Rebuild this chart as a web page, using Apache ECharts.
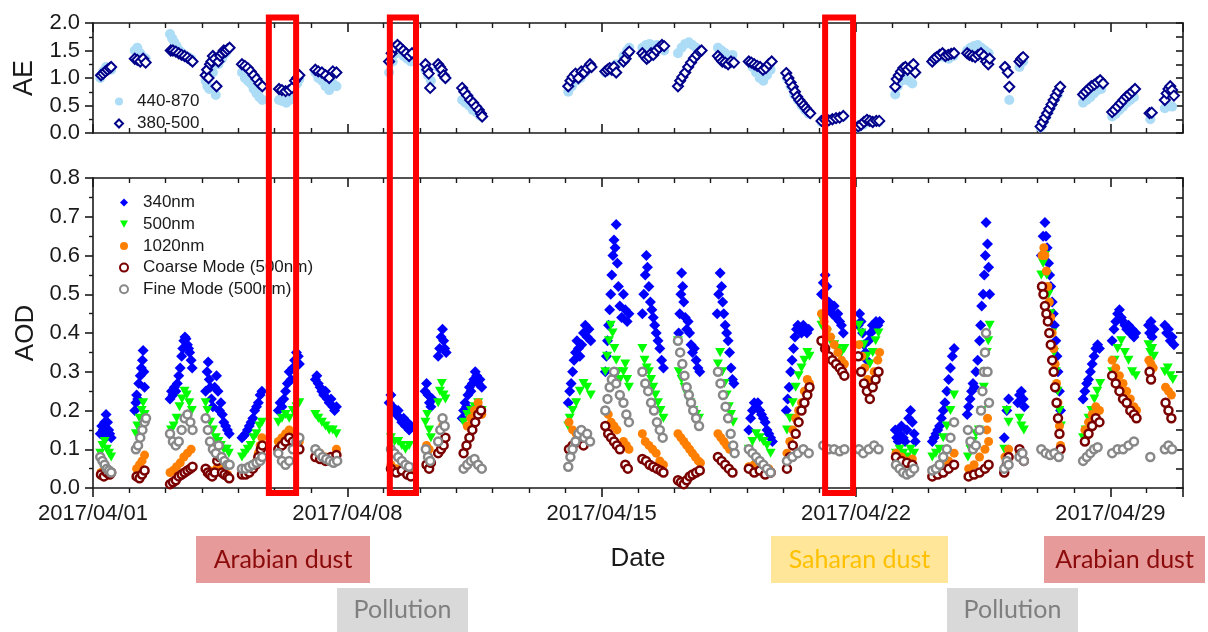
<!DOCTYPE html>
<html><head><meta charset="utf-8">
<script src="https://cdn.jsdelivr.net/npm/echarts@6/dist/echarts.min.js"></script>
<style>html,body{margin:0;padding:0;background:#fff}#c{width:1208px;height:632px}</style>
</head><body><div id="c"></div>
<script>
// x values are days since 2017/04/01 00:00
const tickLabels = ['2017/04/01','2017/04/08','2017/04/15','2017/04/22','2017/04/29'];
const aeNames = ['440-870', '380-500'];
const aodNames = ['340nm', '500nm', '1020nm', 'Coarse Mode (500nm)', 'Fine Mode (500nm)'];

const ae440870 = [
[0.2,1.0],[0.28,1.12],[0.36,1.2],[0.44,1.18],[0.5,1.15],
[1.15,1.5],[1.22,1.55],[1.3,1.45],[1.38,1.38],[1.45,1.35],
[2.12,1.8],[2.18,1.72],[2.24,1.65],[2.3,1.58],[2.38,1.5],[2.46,1.45],[2.54,1.4],[2.62,1.38],[2.7,1.35],
[3.1,0.95],[3.15,0.85],[3.2,0.8],[3.3,1.1],[3.38,0.69],[3.45,1.25],[3.55,1.35],[3.65,1.45],
[4.1,1.1],[4.18,1.0],[4.26,0.95],[4.34,0.9],[4.42,0.8],[4.5,0.72],[4.58,0.65],[4.66,0.6],
[5.12,0.6],[5.22,0.58],[5.32,0.55],[5.42,0.6],[5.52,0.75],[5.62,0.9],[5.68,0.98],
[6.12,1.1],[6.2,1.0],[6.3,0.95],[6.4,0.85],[6.5,0.78],[6.6,0.9],[6.7,0.85],
[8.15,1.1],[8.25,1.3],[8.35,1.45],[8.45,1.5],[8.55,1.4],[8.65,1.35],[8.75,1.3],
[9.15,1.15],[9.22,1.05],[9.3,0.95],[9.5,1.2],[9.6,1.1],[9.7,1.0],
[10.16,0.6],[10.25,0.55],[10.35,0.5],[10.45,0.42],[10.55,0.38],[10.65,0.32],[10.7,0.3],
[13.08,0.75],[13.18,0.85],[13.3,0.95],[13.42,1.0],[13.55,1.1],[13.68,1.2],
[14.1,1.1],[14.2,1.15],[14.3,1.2],[14.4,1.25],[14.6,1.4],[14.7,1.5],[14.76,1.55],
[15.12,1.55],[15.22,1.6],[15.32,1.62],[15.42,1.58],[15.52,1.6],[15.62,1.55],[15.72,1.5],
[16.1,1.45],[16.2,1.55],[16.3,1.62],[16.4,1.65],[16.5,1.6],[16.6,1.55],[16.7,1.5],
[17.2,1.55],[17.3,1.5],[17.4,1.45],[17.5,1.4],[17.6,1.42],
[18.05,1.3],[18.15,1.2],[18.25,1.1],[18.35,1.0],[18.45,0.95],[18.55,1.05],[18.65,1.15],
[19.1,1.0],[19.2,0.85],[19.3,0.7],[19.4,0.6],[19.5,0.5],[19.6,0.42],[19.7,0.35],
[20.05,0.2],[20.2,0.22],[20.35,0.25],[20.5,0.27],[20.65,0.3],
[21.06,0.1],[21.2,0.15],[21.35,0.2],[21.5,0.22],[21.62,0.2],
[22.08,0.7],[22.15,0.85],[22.25,0.95],[22.35,1.0],[22.45,0.95],[22.55,0.9],
[23.1,1.3],[23.2,1.35],[23.3,1.4],[23.42,1.38],[23.55,1.35],[23.68,1.4],
[24.06,1.5],[24.15,1.55],[24.25,1.58],[24.35,1.6],[24.45,1.55],[24.55,1.5],[24.65,1.45],
[25.1,1.2],[25.22,0.6],[25.5,1.2],[25.6,1.3],
[26.08,0.1],[26.16,0.2],[26.24,0.3],[26.32,0.42],[26.4,0.52],[26.48,0.62],[26.56,0.7],
[27.25,0.55],[27.35,0.6],[27.45,0.65],[27.55,0.72],[27.65,0.78],[27.75,0.8],
[28.05,0.3],[28.15,0.35],[28.25,0.42],[28.35,0.48],[28.45,0.55],[28.55,0.6],[28.65,0.65],
[29.1,0.25],
[29.5,0.45],[29.6,0.5],[29.7,0.48]
];

const ae380500 = [
[0.22,1.05],[0.28,1.08],[0.34,1.12],[0.4,1.15],[0.46,1.18],[0.5,1.2],
[1.15,1.35],[1.22,1.33],[1.3,1.3],[1.38,1.35],[1.45,1.28],
[2.14,1.5],[2.2,1.5],[2.28,1.48],[2.36,1.45],[2.44,1.42],[2.52,1.4],[2.6,1.37],[2.68,1.33],[2.74,1.3],
[3.1,1.05],[3.14,1.15],[3.18,1.0],[3.22,1.25],[3.26,1.3],[3.3,1.4],[3.35,1.35],[3.4,0.85],[3.45,1.3],[3.5,1.4],[3.55,1.45],[3.6,1.5],[3.65,1.48],[3.7,1.52],[3.76,1.55],
[4.1,1.25],[4.18,1.22],[4.26,1.18],[4.34,1.12],[4.42,1.05],[4.5,0.98],[4.58,0.9],[4.66,0.85],
[5.12,0.8],[5.2,0.78],[5.3,0.76],[5.4,0.78],[5.48,0.82],[5.56,0.95],[5.62,1.0],[5.68,1.05],
[6.12,1.15],[6.2,1.12],[6.3,1.1],[6.4,1.05],[6.5,1.0],[6.6,1.12],[6.7,1.1],
[8.15,1.3],[8.22,1.45],[8.3,1.55],[8.38,1.6],[8.46,1.55],[8.54,1.5],[8.62,1.45],[8.7,1.4],[8.78,1.45],
[9.15,1.25],[9.2,1.15],[9.24,1.08],[9.28,0.82],[9.5,1.25],[9.55,1.2],[9.6,1.15],[9.65,1.05],[9.7,1.0],
[10.16,0.82],[10.22,0.75],[10.3,0.68],[10.38,0.6],[10.46,0.55],[10.54,0.48],[10.62,0.42],[10.68,0.35],[10.71,0.3],
[13.08,0.85],[13.14,0.95],[13.2,1.02],[13.28,1.08],[13.36,1.0],[13.44,1.12],[13.52,1.1],[13.6,1.18],[13.68,1.25],[13.72,1.2],
[14.1,1.12],[14.16,1.15],[14.22,1.18],[14.28,1.15],[14.34,1.2],[14.4,1.1],[14.6,1.3],[14.66,1.35],[14.72,1.45],[14.76,1.48],
[15.12,1.45],[15.18,1.4],[15.24,1.35],[15.3,1.38],[15.36,1.45],[15.42,1.42],[15.5,1.5],[15.58,1.55],[15.66,1.6],[15.72,1.58],
[16.1,0.85],[16.16,0.95],[16.22,1.02],[16.3,1.1],[16.38,1.2],[16.46,1.28],[16.54,1.36],[16.62,1.42],[16.7,1.48],[16.75,1.5],
[17.2,1.4],[17.26,1.35],[17.32,1.3],[17.4,1.28],[17.48,1.25],[17.56,1.3],[17.64,1.28],
[18.05,1.3],[18.12,1.28],[18.2,1.25],[18.28,1.22],[18.36,1.2],[18.44,1.15],[18.52,1.18],[18.6,1.25],[18.68,1.3],
[19.08,1.09],[19.14,1.0],[19.2,0.92],[19.26,0.84],[19.32,0.75],[19.38,0.66],[19.44,0.6],[19.5,0.55],[19.56,0.5],[19.62,0.45],[19.68,0.4],[19.74,0.36],
[20.05,0.22],[20.15,0.24],[20.25,0.23],[20.35,0.25],[20.45,0.27],[20.55,0.28],[20.65,0.31],
[21.06,0.12],[21.14,0.15],[21.22,0.2],[21.3,0.24],[21.38,0.22],[21.46,0.2],[21.56,0.22],[21.64,0.22],
[22.08,0.84],[22.12,0.98],[22.18,1.05],[22.24,1.12],[22.3,1.18],[22.36,1.2],[22.42,1.15],[22.5,1.2],[22.58,1.25],[22.63,1.1],
[23.1,1.3],[23.16,1.35],[23.22,1.38],[23.3,1.42],[23.38,1.45],[23.46,1.4],[23.54,1.42],[23.62,1.44],[23.7,1.45],
[24.06,1.45],[24.12,1.42],[24.2,1.4],[24.28,1.38],[24.36,1.42],[24.44,1.45],[24.52,1.4],[24.58,1.3],[24.64,1.25],[24.68,1.35],
[25.1,1.2],[25.18,1.1],[25.22,0.84],[25.5,1.3],[25.55,1.35],[25.6,1.38],
[26.08,0.12],[26.14,0.2],[26.2,0.28],[26.26,0.36],[26.32,0.44],[26.38,0.52],[26.44,0.6],[26.5,0.68],[26.56,0.76],[26.62,0.84],
[27.25,0.7],[27.32,0.75],[27.4,0.8],[27.48,0.85],[27.56,0.88],[27.64,0.92],[27.72,0.96],[27.8,0.9],
[28.05,0.38],[28.12,0.42],[28.2,0.48],[28.28,0.54],[28.36,0.6],[28.44,0.66],[28.52,0.7],[28.6,0.75],[28.68,0.8],
[29.08,0.36],[29.14,0.37],
[29.5,0.6],[29.55,0.72],[29.6,0.8],[29.65,0.85],[29.7,0.78],[29.75,0.68]
];

const aod340 = [
[0.2,0.14],[0.24,0.16],[0.28,0.15],[0.32,0.17],[0.36,0.19],[0.4,0.17],[0.43,0.15],[0.46,0.14],[0.5,0.13],[0.34,0.13],
[1.15,0.2],[1.18,0.22],[1.2,0.24],[1.23,0.23],[1.26,0.27],[1.3,0.29],[1.33,0.31],[1.36,0.33],[1.38,0.355],[1.4,0.3],[1.42,0.26],
[2.12,0.23],[2.16,0.25],[2.2,0.24],[2.24,0.26],[2.28,0.25],[2.32,0.27],[2.36,0.29],[2.4,0.31],[2.44,0.34],[2.47,0.36],[2.5,0.38],[2.53,0.39],[2.56,0.385],[2.6,0.37],[2.63,0.36],[2.66,0.35],[2.7,0.33],[2.73,0.31],
[3.1,0.25],[3.14,0.3],[3.17,0.325],[3.2,0.28],[3.23,0.26],[3.26,0.23],[3.3,0.21],[3.35,0.26],[3.4,0.29],[3.44,0.25],[3.48,0.2],[3.52,0.22],[3.56,0.19],[3.6,0.17],[3.65,0.16],[3.7,0.15],[3.75,0.14],
[4.1,0.13],[4.15,0.135],[4.2,0.14],[4.25,0.15],[4.3,0.16],[4.35,0.17],[4.4,0.18],[4.45,0.2],[4.5,0.21],[4.55,0.22],[4.6,0.24],[4.65,0.25],
[5.1,0.2],[5.15,0.22],[5.2,0.21],[5.25,0.23],[5.3,0.25],[5.35,0.27],[5.4,0.3],[5.45,0.28],[5.5,0.31],[5.55,0.33],[5.6,0.35],[5.65,0.34],[5.68,0.32],
[6.12,0.28],[6.16,0.29],[6.2,0.27],[6.25,0.26],[6.3,0.25],[6.35,0.24],[6.4,0.25],[6.45,0.23],[6.5,0.22],[6.55,0.23],[6.6,0.21],[6.65,0.2],[6.7,0.21],
[8.15,0.22],[8.2,0.24],[8.25,0.21],[8.3,0.2],[8.35,0.19],[8.4,0.2],[8.45,0.18],[8.5,0.17],[8.55,0.18],[8.6,0.16],[8.65,0.17],[8.7,0.15],[8.75,0.16],
[9.14,0.25],[9.18,0.27],[9.22,0.24],[9.26,0.22],[9.3,0.21],[9.34,0.23],[9.5,0.34],[9.54,0.36],[9.58,0.39],[9.62,0.41],[9.65,0.38],[9.68,0.36],[9.72,0.35],
[10.16,0.18],[10.2,0.2],[10.24,0.22],[10.28,0.21],[10.32,0.24],[10.36,0.26],[10.4,0.25],[10.44,0.27],[10.48,0.28],[10.52,0.3],[10.56,0.29],[10.6,0.27],[10.65,0.28],[10.7,0.26],
[13.08,0.22],[13.12,0.25],[13.16,0.27],[13.2,0.3],[13.24,0.33],[13.28,0.35],[13.32,0.38],[13.36,0.36],[13.4,0.34],[13.45,0.37],[13.5,0.4],[13.55,0.42],[13.6,0.39],[13.65,0.41],[13.7,0.38],
[14.1,0.3],[14.13,0.34],[14.16,0.38],[14.19,0.42],[14.22,0.46],[14.25,0.5],[14.28,0.55],[14.31,0.6],[14.34,0.64],[14.37,0.62],[14.4,0.68],[14.43,0.58],[14.46,0.52],[14.5,0.47],[14.55,0.44],[14.6,0.5],[14.65,0.46],[14.7,0.43],[14.75,0.45],
[15.12,0.45],[15.16,0.5],[15.2,0.55],[15.23,0.6],[15.26,0.57],[15.3,0.52],[15.34,0.48],[15.38,0.46],[15.42,0.44],[15.46,0.42],[15.5,0.4],[15.55,0.38],[15.6,0.36],[15.65,0.33],[15.7,0.31],
[16.12,0.4],[16.15,0.45],[16.18,0.5],[16.2,0.555],[16.23,0.52],[16.26,0.48],[16.3,0.44],[16.34,0.41],[16.38,0.43],[16.42,0.4],[16.46,0.37],[16.5,0.35],[16.55,0.36],[16.6,0.33],[16.65,0.31],[16.7,0.3],
[17.18,0.45],[17.22,0.5],[17.26,0.555],[17.3,0.52],[17.33,0.48],[17.36,0.45],[17.4,0.42],[17.44,0.4],[17.48,0.38],[17.52,0.35],[17.56,0.31],[17.6,0.28],[17.64,0.27],
[18.05,0.15],[18.1,0.18],[18.15,0.2],[18.2,0.22],[18.25,0.21],[18.3,0.22],[18.35,0.2],[18.4,0.19],[18.45,0.18],[18.5,0.17],[18.55,0.15],[18.6,0.14],[18.65,0.13],[18.7,0.12],
[19.08,0.2],[19.12,0.23],[19.16,0.26],[19.2,0.3],[19.24,0.33],[19.28,0.36],[19.32,0.39],[19.36,0.41],[19.4,0.42],[19.45,0.41],[19.5,0.4],[19.55,0.42],[19.6,0.41],[19.65,0.4],[19.7,0.41],
[20.05,0.5],[20.1,0.53],[20.15,0.55],[20.2,0.52],[20.25,0.48],[20.3,0.46],[20.35,0.45],[20.4,0.47],[20.45,0.44],[20.5,0.45],[20.55,0.43],[20.6,0.42],[20.65,0.4],
[21.06,0.42],[21.1,0.45],[21.14,0.43],[21.18,0.4],[21.22,0.37],[21.26,0.35],[21.3,0.33],[21.35,0.38],[21.4,0.4],[21.45,0.42],[21.5,0.41],[21.55,0.43],[21.6,0.42],[21.65,0.43],
[22.08,0.15],[22.12,0.13],[22.16,0.12],[22.2,0.14],[22.25,0.16],[22.3,0.13],[22.35,0.12],[22.4,0.15],[22.45,0.18],[22.5,0.2],[22.55,0.17],[22.6,0.14],[22.63,0.12],
[23.1,0.12],[23.15,0.13],[23.2,0.14],[23.25,0.15],[23.3,0.16],[23.35,0.18],[23.4,0.2],[23.45,0.22],[23.5,0.25],[23.55,0.28],[23.6,0.31],[23.65,0.34],[23.7,0.36],
[24.06,0.19],[24.1,0.21],[24.14,0.23],[24.18,0.25],[24.22,0.27],[24.26,0.26],[24.3,0.3],[24.35,0.33],[24.4,0.38],[24.43,0.42],[24.46,0.47],[24.5,0.5],[24.53,0.55],[24.56,0.6],[24.58,0.685],[24.62,0.63],[24.65,0.57],[24.68,0.5],
[25.08,0.13],[25.15,0.2],[25.2,0.23],[25.45,0.22],[25.5,0.24],[25.55,0.25],[25.6,0.23],[25.63,0.21],
[26.1,0.6],[26.15,0.65],[26.2,0.685],[26.23,0.65],[26.26,0.62],[26.3,0.58],[26.33,0.55],[26.36,0.52],[26.4,0.48],[26.43,0.45],[26.46,0.42],[26.5,0.38],[26.53,0.34],[26.56,0.3],[26.6,0.25],[26.63,0.2],
[27.25,0.23],[27.3,0.25],[27.35,0.27],[27.4,0.28],[27.45,0.3],[27.5,0.32],[27.55,0.34],[27.6,0.36],[27.65,0.37],[27.7,0.36],
[28.05,0.38],[28.1,0.41],[28.15,0.43],[28.2,0.45],[28.25,0.46],[28.3,0.44],[28.35,0.43],[28.4,0.42],[28.45,0.41],[28.5,0.42],[28.55,0.4],[28.6,0.41],[28.65,0.39],[28.7,0.4],
[29.05,0.42],[29.08,0.4],[29.12,0.43],[29.15,0.39],[29.2,0.41],
[29.5,0.42],[29.55,0.4],[29.6,0.41],[29.65,0.38],[29.7,0.39],[29.75,0.37]
];

const aod500 = [
[0.2,0.09],[0.26,0.11],[0.32,0.12],[0.38,0.1],[0.44,0.09],[0.5,0.08],
[1.18,0.14],[1.22,0.16],[1.28,0.18],[1.34,0.2],[1.38,0.22],[1.42,0.19],
[2.15,0.15],[2.22,0.16],[2.3,0.18],[2.38,0.21],[2.45,0.23],[2.52,0.25],[2.58,0.24],[2.65,0.22],[2.72,0.2],
[3.1,0.22],[3.15,0.2],[3.22,0.17],[3.3,0.15],[3.38,0.13],[3.45,0.12],[3.52,0.11],[3.6,0.1],[3.68,0.1],[3.74,0.09],
[4.1,0.08],[4.18,0.09],[4.26,0.1],[4.34,0.11],[4.42,0.13],[4.5,0.14],[4.58,0.16],[4.65,0.17],
[5.1,0.17],[5.2,0.18],[5.3,0.19],[5.4,0.18],[5.5,0.2],[5.6,0.21],[5.68,0.22],
[6.12,0.19],[6.2,0.18],[6.3,0.17],[6.4,0.16],[6.5,0.15],[6.6,0.15],[6.7,0.14],
[8.2,0.13],[8.3,0.12],[8.4,0.12],[8.5,0.11],[8.6,0.1],[8.7,0.11],
[9.15,0.17],[9.2,0.19],[9.25,0.15],[9.3,0.13],[9.5,0.22],[9.55,0.25],[9.6,0.27],[9.65,0.24],[9.7,0.23],
[10.2,0.17],[10.3,0.19],[10.4,0.2],[10.5,0.21],[10.6,0.22],[10.7,0.2],
[13.08,0.16],[13.12,0.18],[13.2,0.2],[13.3,0.22],[13.4,0.25],[13.5,0.27],[13.6,0.26],[13.7,0.24],
[14.1,0.3],[14.15,0.34],[14.2,0.38],[14.25,0.42],[14.3,0.4],[14.35,0.36],[14.4,0.33],[14.45,0.3],[14.5,0.28],[14.6,0.3],[14.65,0.32],[14.7,0.28],[14.75,0.26],
[15.12,0.36],[15.18,0.33],[15.24,0.31],[15.3,0.3],[15.36,0.28],[15.42,0.26],[15.48,0.24],[15.55,0.22],[15.62,0.2],[15.7,0.18],
[16.1,0.38],[16.12,0.3],[16.2,0.28],[16.28,0.26],[16.36,0.24],[16.44,0.22],[16.52,0.2],[16.6,0.19],[16.68,0.18],
[17.2,0.32],[17.26,0.35],[17.32,0.3],[17.38,0.27],[17.44,0.24],[17.5,0.21],[17.56,0.19],[17.62,0.17],
[18.05,0.1],[18.15,0.12],[18.25,0.14],[18.35,0.13],[18.45,0.12],[18.55,0.11],[18.65,0.09],
[19.1,0.15],[19.18,0.18],[19.26,0.22],[19.34,0.26],[19.42,0.29],[19.5,0.31],[19.58,0.33],[19.66,0.35],[19.72,0.34],
[20.05,0.42],[20.1,0.43],[20.2,0.4],[20.3,0.38],[20.4,0.37],[20.5,0.36],[20.6,0.35],[20.68,0.36],
[21.08,0.42],[21.15,0.4],[21.22,0.37],[21.3,0.34],[21.38,0.32],[21.46,0.35],[21.54,0.38],[21.62,0.4],
[22.1,0.09],[22.2,0.1],[22.3,0.09],[22.4,0.08],[22.5,0.1],[22.6,0.09],
[23.1,0.08],[23.2,0.09],[23.3,0.1],[23.4,0.13],[23.5,0.16],[23.6,0.2],[23.7,0.24],
[24.08,0.08],[24.15,0.1],[24.22,0.12],[24.3,0.14],[24.38,0.15],[24.46,0.2],[24.52,0.26],[24.56,0.3],[24.6,0.35],[24.64,0.38],[24.68,0.42],
[25.08,0.1],[25.15,0.2],[25.2,0.17],[25.5,0.18],[25.55,0.16],[25.62,0.15],
[26.1,0.55],[26.15,0.58],[26.2,0.6],[26.25,0.55],[26.3,0.5],[26.35,0.45],[26.4,0.4],[26.45,0.35],[26.5,0.3],[26.55,0.25],[26.6,0.2],[26.64,0.16],
[27.25,0.13],[27.32,0.15],[27.4,0.18],[27.48,0.2],[27.56,0.23],[27.64,0.25],[27.72,0.27],
[28.05,0.3],[28.12,0.33],[28.2,0.36],[28.3,0.38],[28.4,0.35],[28.5,0.33],[28.6,0.3],[28.7,0.29],
[29.05,0.37],[29.1,0.35],[29.15,0.36],[29.2,0.34],
[29.5,0.3],[29.58,0.31],[29.65,0.29],[29.72,0.28]
];

const aod1020 = [
[0.22,0.04],[0.32,0.045],[0.42,0.04],[0.5,0.038],
[1.2,0.05],[1.28,0.06],[1.35,0.07],[1.42,0.085],
[2.12,0.04],[2.2,0.045],[2.3,0.055],[2.4,0.065],[2.5,0.08],[2.6,0.09],[2.7,0.1],
[3.1,0.05],[3.2,0.045],[3.3,0.04],[3.4,0.05],[3.5,0.06],[3.6,0.04],[3.7,0.035],
[4.1,0.04],[4.2,0.04],[4.3,0.045],[4.4,0.05],[4.5,0.07],[4.55,0.09],[4.6,0.11],[4.65,0.13],
[5.1,0.12],[5.2,0.13],[5.3,0.14],[5.4,0.15],[5.5,0.14],[5.6,0.13],[5.68,0.12],
[6.12,0.1],[6.25,0.09],[6.4,0.08],[6.55,0.075],[6.7,0.1],
[8.2,0.06],[8.35,0.05],[8.5,0.05],[8.65,0.04],[8.75,0.045],
[9.18,0.11],[9.25,0.1],[9.55,0.15],[9.62,0.16],[9.7,0.13],
[10.3,0.16],[10.4,0.18],[10.5,0.2],[10.6,0.22],[10.7,0.19],
[13.1,0.17],[13.2,0.15],[13.3,0.14],[13.4,0.13],[13.5,0.12],
[14.1,0.2],[14.18,0.19],[14.26,0.17],[14.34,0.16],[14.42,0.15],[14.6,0.12],[14.68,0.11],[14.75,0.1],
[15.12,0.14],[15.2,0.12],[15.3,0.11],[15.4,0.1],[15.5,0.09],[15.6,0.07],[15.7,0.06],
[16.1,0.14],[16.18,0.13],[16.26,0.12],[16.34,0.11],[16.42,0.1],[16.5,0.09],[16.58,0.08],[16.66,0.07],[16.72,0.065],
[17.2,0.14],[17.28,0.13],[17.36,0.12],[17.44,0.11],[17.52,0.1],
[18.05,0.055],[18.2,0.06],[18.4,0.05],[18.6,0.05],
[19.1,0.09],[19.18,0.12],[19.26,0.15],[19.34,0.18],[19.42,0.2],[19.5,0.22],[19.58,0.25],[19.66,0.28],[19.72,0.27],
[20.05,0.45],[20.12,0.43],[20.2,0.41],[20.3,0.39],[20.4,0.37],[20.5,0.35],[20.6,0.33],[20.68,0.32],
[21.08,0.37],[21.16,0.34],[21.24,0.31],[21.32,0.28],[21.4,0.26],[21.5,0.3],[21.6,0.33],[21.65,0.35],
[22.1,0.09],[22.25,0.08],[22.4,0.07],[22.55,0.075],
[23.1,0.04],[23.25,0.045],[23.4,0.055],[23.55,0.07],[23.7,0.09],
[24.1,0.05],[24.25,0.06],[24.4,0.08],[24.55,0.1],[24.6,0.15],[24.62,0.18],[24.65,0.12],
[25.1,0.08],[25.2,0.1],[25.5,0.09],[25.6,0.07],
[26.12,0.6],[26.17,0.62],[26.2,0.6],[26.24,0.56],[26.28,0.52],[26.32,0.48],[26.36,0.44],[26.4,0.4],[26.44,0.36],[26.48,0.32],[26.52,0.27],[26.56,0.22],[26.6,0.16],[26.63,0.11],
[27.3,0.15],[27.4,0.17],[27.5,0.19],[27.6,0.21],[27.7,0.2],
[28.05,0.33],[28.15,0.31],[28.25,0.29],[28.35,0.27],[28.45,0.25],[28.55,0.23],[28.65,0.21],[28.72,0.2],
[29.06,0.33],[29.12,0.32],[29.18,0.31],
[29.52,0.26],[29.6,0.25],[29.68,0.24]
];

const aodCoarse = [
[0.22,0.035],[0.3,0.03],[0.38,0.04],[0.46,0.035],[0.5,0.04],
[1.2,0.03],[1.28,0.025],[1.35,0.035],[1.42,0.045],
[2.12,0.01],[2.2,0.015],[2.28,0.02],[2.36,0.03],[2.44,0.035],[2.52,0.04],[2.6,0.045],[2.68,0.05],[2.74,0.055],
[3.1,0.05],[3.16,0.04],[3.22,0.035],[3.28,0.03],[3.35,0.04],[3.42,0.07],[3.48,0.08],[3.55,0.04],[3.62,0.035],[3.7,0.03],[3.75,0.025],
[4.1,0.035],[4.2,0.035],[4.3,0.04],[4.4,0.05],[4.48,0.06],[4.55,0.08],[4.62,0.1],[4.66,0.11],
[5.1,0.1],[5.2,0.11],[5.3,0.12],[5.4,0.13],[5.5,0.12],[5.6,0.11],[5.68,0.1],
[6.12,0.08],[6.25,0.075],[6.4,0.07],[6.55,0.08],[6.7,0.085],
[8.2,0.05],[8.35,0.04],[8.5,0.045],[8.65,0.035],[8.75,0.03],
[9.18,0.06],[9.25,0.05],[9.3,0.065],[9.5,0.09],[9.58,0.1],[9.65,0.11],[9.7,0.13],
[10.2,0.09],[10.28,0.11],[10.36,0.13],[10.44,0.15],[10.52,0.17],[10.6,0.19],[10.68,0.2],
[13.1,0.1],[13.2,0.11],[13.3,0.12],[13.4,0.13],[13.5,0.11],
[14.1,0.16],[14.18,0.14],[14.26,0.13],[14.34,0.12],[14.42,0.11],[14.5,0.1],[14.65,0.06],[14.72,0.05],
[15.12,0.075],[15.22,0.07],[15.32,0.06],[15.42,0.055],[15.52,0.05],[15.62,0.045],[15.7,0.04],
[16.1,0.02],[16.18,0.015],[16.26,0.01],[16.34,0.02],[16.42,0.03],[16.5,0.035],[16.6,0.04],[16.7,0.045],
[17.2,0.08],[17.3,0.07],[17.4,0.06],[17.5,0.05],[17.6,0.04],
[18.05,0.05],[18.2,0.04],[18.35,0.045],[18.5,0.035],[18.65,0.04],
[19.1,0.05],[19.18,0.08],[19.26,0.11],[19.34,0.14],[19.42,0.17],[19.5,0.2],[19.58,0.22],[19.66,0.24],[19.72,0.26],
[20.05,0.38],[20.15,0.36],[20.25,0.34],[20.35,0.33],[20.45,0.32],[20.55,0.31],[20.62,0.3],[20.68,0.29],
[21.06,0.34],[21.14,0.3],[21.22,0.27],[21.3,0.25],[21.38,0.23],[21.46,0.26],[21.54,0.28],[21.62,0.3],
[22.1,0.08],[22.25,0.07],[22.4,0.065],[22.55,0.06],
[23.1,0.03],[23.25,0.035],[23.4,0.04],[23.55,0.05],[23.7,0.06],
[24.1,0.03],[24.25,0.035],[24.4,0.04],[24.55,0.05],[24.65,0.06],
[25.08,0.04],[25.15,0.06],[25.2,0.08],[25.5,0.1],[25.55,0.09],[25.62,0.07],
[26.12,0.52],[26.16,0.5],[26.2,0.47],[26.24,0.45],[26.28,0.43],[26.32,0.4],[26.36,0.37],[26.4,0.33],[26.44,0.3],[26.48,0.26],[26.52,0.22],[26.56,0.18],[26.6,0.14],[26.63,0.1],
[27.3,0.12],[27.4,0.14],[27.5,0.16],[27.6,0.18],[27.7,0.17],
[28.05,0.29],[28.15,0.27],[28.25,0.25],[28.35,0.23],[28.45,0.22],[28.55,0.2],[28.65,0.19],[28.72,0.18],
[29.08,0.3],[29.12,0.28],
[29.52,0.22],[29.6,0.2],[29.68,0.18]
];

const aodFine = [
[0.2,0.08],[0.26,0.07],[0.32,0.06],[0.38,0.05],[0.44,0.045],[0.5,0.04],
[1.18,0.1],[1.24,0.11],[1.3,0.13],[1.36,0.15],[1.42,0.17],[1.46,0.18],
[2.12,0.14],[2.2,0.12],[2.28,0.11],[2.36,0.12],[2.44,0.15],[2.52,0.18],[2.6,0.19],[2.68,0.17],[2.74,0.15],
[3.1,0.18],[3.16,0.15],[3.22,0.12],[3.3,0.1],[3.38,0.09],[3.46,0.11],[3.54,0.08],[3.62,0.07],[3.7,0.06],[3.76,0.06],
[4.1,0.05],[4.2,0.05],[4.3,0.055],[4.4,0.06],[4.5,0.065],[4.6,0.07],[4.66,0.08],
[5.1,0.09],[5.2,0.07],[5.3,0.06],[5.4,0.07],[5.5,0.1],[5.6,0.12],[5.68,0.13],
[6.12,0.1],[6.22,0.09],[6.32,0.08],[6.42,0.075],[6.52,0.07],[6.62,0.065],[6.72,0.07],
[8.2,0.1],[8.3,0.09],[8.4,0.08],[8.5,0.07],[8.6,0.06],[8.7,0.055],
[9.16,0.1],[9.22,0.08],[9.28,0.07],[9.5,0.12],[9.56,0.15],[9.62,0.18],[9.68,0.16],
[10.2,0.05],[10.3,0.06],[10.4,0.07],[10.5,0.075],[10.6,0.06],[10.7,0.05],
[13.08,0.055],[13.14,0.08],[13.2,0.1],[13.28,0.12],[13.36,0.14],[13.44,0.15],[13.52,0.13],[13.6,0.14],[13.68,0.12],
[14.1,0.2],[14.16,0.23],[14.22,0.26],[14.28,0.28],[14.34,0.3],[14.4,0.27],[14.5,0.24],[14.6,0.22],[14.68,0.19],[14.75,0.17],
[15.12,0.3],[15.2,0.27],[15.28,0.25],[15.36,0.22],[15.44,0.2],[15.52,0.17],[15.6,0.15],[15.68,0.13],
[16.1,0.38],[16.16,0.35],[16.22,0.32],[16.28,0.29],[16.34,0.26],[16.4,0.24],[16.46,0.22],[16.52,0.2],[16.6,0.18],[16.68,0.16],
[17.2,0.3],[17.27,0.27],[17.34,0.24],[17.41,0.21],[17.48,0.18],[17.55,0.14],[17.62,0.11],[17.66,0.09],
[18.05,0.1],[18.15,0.09],[18.25,0.08],[18.35,0.07],[18.45,0.06],[18.55,0.05],[18.65,0.04],
[19.1,0.07],[19.25,0.08],[19.4,0.09],[19.55,0.1],[19.7,0.09],
[20.1,0.11],[20.25,0.1],[20.4,0.1],[20.55,0.095],[20.68,0.1],
[21.08,0.1],[21.2,0.09],[21.35,0.1],[21.5,0.11],[21.62,0.1],
[22.1,0.06],[22.2,0.05],[22.3,0.04],[22.4,0.035],[22.5,0.04],[22.6,0.05],
[23.1,0.045],[23.2,0.05],[23.3,0.06],[23.4,0.08],[23.5,0.1],[23.6,0.13],[23.7,0.17],
[24.08,0.15],[24.15,0.12],[24.22,0.1],[24.3,0.11],[24.4,0.15],[24.44,0.2],[24.48,0.25],[24.52,0.3],[24.55,0.35],[24.58,0.4],[24.62,0.3],[24.66,0.22],
[25.08,0.05],[25.15,0.07],[25.2,0.06],[25.5,0.08],[25.58,0.09],[25.62,0.07],
[26.1,0.1],[26.22,0.09],[26.34,0.085],[26.46,0.09],[26.58,0.08],
[27.25,0.07],[27.35,0.08],[27.45,0.09],[27.55,0.1],[27.65,0.105],
[28.05,0.09],[28.2,0.1],[28.35,0.1],[28.5,0.11],[28.65,0.12],
[29.1,0.08],
[29.5,0.1],[29.6,0.11],[29.7,0.1]
];

// highlighted periods (days since 2017/04/01)
const highlightPeriods = [[4.84, 5.59], [8.17, 8.89], [20.15, 20.92]];
const eventLabels = ['Arabian dust', 'Pollution', 'Saharan dust', 'Pollution', 'Arabian dust'];

const FONT = '"Liberation Sans", Arial, sans-serif';
const BLACK = '#1a1a1a';
const chart = echarts.init(document.getElementById('c'), null, {renderer: 'canvas'});

function xAx(grid, pos, opts) {
  return Object.assign({
    type: 'value', gridIndex: grid, position: pos, min: 0, max: 30, interval: 7,
    axisLine: {onZero: false, lineStyle: {color: BLACK, width: 1.6}},
    axisTick: {inside: true, length: 9, lineStyle: {color: BLACK, width: 1.6}},
    minorTick: {show: true, splitNumber: 7, length: 5, lineStyle: {color: BLACK, width: 1.4}},
    axisLabel: {show: false}, splitLine: {show: false}, minorSplitLine: {show: false}
  }, opts || {});
}
function yAx(grid, pos, max, interval, opts) {
  return Object.assign({
    type: 'value', gridIndex: grid, position: pos, min: 0, max: max, interval: interval,
    axisLine: {show: true, onZero: false, lineStyle: {color: BLACK, width: 1.6}},
    axisTick: {show: true, inside: true, length: 7, lineStyle: {color: BLACK, width: 1.6}},
    axisLabel: {show: false}, splitLine: {show: false}
  }, opts || {});
}
const yLeftLabel = {show: true, margin: 13, fontSize: 22, color: BLACK, fontFamily: FONT,
  formatter: v => v.toFixed(1)};

const option = {
  animation: false,
  backgroundColor: '#fff',
  grid: [
    {left: 93, top: 23, width: 1090, height: 110, outerBoundsMode: 'none'},
    {left: 93, top: 178, width: 1090, height: 310, outerBoundsMode: 'none'}
  ],
  xAxis: [
    xAx(0, 'bottom'),
    xAx(0, 'top'),
    xAx(1, 'bottom', {
      axisTick: {inside: false, length: 9, lineStyle: {color: BLACK, width: 1.6}},
      minorTick: {show: true, splitNumber: 7, length: 5, lineStyle: {color: BLACK, width: 1.4}},
      axisLabel: {show: true, margin: 15, fontSize: 22, color: BLACK, fontFamily: FONT,
        formatter: v => (v % 7 === 0 ? tickLabels[v / 7] : '')},
      name: 'Date', nameLocation: 'middle', nameGap: 58,
      nameTextStyle: {fontSize: 26, color: BLACK, fontFamily: FONT}
    }),
    xAx(1, 'top')
  ],
  yAxis: [
    yAx(0, 'left', 2, 0.5, {
      axisTick: {inside: false, length: 8, lineStyle: {color: BLACK, width: 1.6}},
      minorTick: {show: true, splitNumber: 2, length: 4, lineStyle: {color: BLACK, width: 1.4}},
      axisLabel: yLeftLabel,
      name: 'AE', nameLocation: 'middle', nameGap: 53, nameRotate: 90,
      nameTextStyle: {fontSize: 27, color: BLACK, fontFamily: FONT}
    }),
    yAx(0, 'right', 2, 0.25),
    yAx(1, 'left', 0.8, 0.1, {
      axisTick: {inside: false, length: 8, lineStyle: {color: BLACK, width: 1.6}},
      minorTick: {show: true, splitNumber: 2, length: 4, lineStyle: {color: BLACK, width: 1.4}},
      axisLabel: yLeftLabel,
      name: 'AOD', nameLocation: 'middle', nameGap: 52, nameRotate: 90,
      nameTextStyle: {fontSize: 26, color: BLACK, fontFamily: FONT}
    }),
    yAx(1, 'right', 0.8, 0.05)
  ],
  legend: [
    {data: aeNames, orient: 'vertical', left: 109, top: 88, itemWidth: 8, itemHeight: 8,
     itemGap: 5, selectedMode: false,
     textStyle: {fontSize: 17, lineHeight: 17, color: BLACK, fontFamily: FONT, padding: [0, 0, 0, 9]}},
    {data: aodNames, orient: 'vertical', left: 114, top: 189, itemWidth: 8, itemHeight: 8,
     itemGap: 4.7, selectedMode: false,
     textStyle: {fontSize: 17, lineHeight: 17, color: BLACK, fontFamily: FONT, padding: [0, 0, 0, 10]}}
  ],
  series: [
    {name: '440-870', type: 'scatter', xAxisIndex: 0, yAxisIndex: 0, data: ae440870,
     symbol: 'circle', symbolSize: 10, itemStyle: {color: '#ADDCF6', opacity: 1}},
    {name: '380-500', type: 'scatter', xAxisIndex: 0, yAxisIndex: 0, data: ae380500,
     symbol: 'diamond', symbolSize: 10, itemStyle: {color: '#ffffff', borderColor: '#00008B', borderWidth: 2, opacity: 1}},
    {name: '340nm', type: 'scatter', xAxisIndex: 2, yAxisIndex: 2, data: aod340,
     symbol: 'diamond', symbolSize: 11, itemStyle: {color: '#0000FF', opacity: 1}},
    {name: '500nm', type: 'scatter', xAxisIndex: 2, yAxisIndex: 2, data: aod500,
     symbol: 'path://M0,0 L10,0 L5,9 Z', symbolSize: [10, 9], itemStyle: {color: '#00FF00', opacity: 1}},
    {name: '1020nm', type: 'scatter', xAxisIndex: 2, yAxisIndex: 2, data: aod1020,
     symbol: 'circle', symbolSize: 9, itemStyle: {color: '#FF7F00', opacity: 1}},
    {name: 'Coarse Mode (500nm)', type: 'scatter', xAxisIndex: 2, yAxisIndex: 2, data: aodCoarse,
     symbol: 'circle', symbolSize: 8, itemStyle: {color: '#ffffff', borderColor: '#7A0000', borderWidth: 2.5, opacity: 1}},
    {name: 'Fine Mode (500nm)', type: 'scatter', xAxisIndex: 2, yAxisIndex: 2, data: aodFine,
     symbol: 'circle', symbolSize: 8, itemStyle: {color: '#ffffff', borderColor: '#888888', borderWidth: 2.5, opacity: 1}}
  ]
};
chart.setOption(option);

// annotation graphics: red highlight frames (from data days) and event label boxes
const topY = chart.convertToPixel({yAxisIndex: 0}, 2) - 5.5;
const botY = chart.convertToPixel({yAxisIndex: 2}, 0) + 5;
const frames = highlightPeriods.map(p => {
  const x1 = chart.convertToPixel({xAxisIndex: 2}, p[0]);
  const x2 = chart.convertToPixel({xAxisIndex: 2}, p[1]);
  return {type: 'rect', z: 100, silent: true,
    shape: {x: x1, y: topY, width: x2 - x1, height: botY - topY},
    style: {fill: null, stroke: '#FF0000', lineWidth: 6}};
});
const boxStyles = [
  {fill: '#E69A9A', text: '#8B0A0A', x: 196, y: 536, w: 174, h: 47},
  {fill: '#D9D9D9', text: '#7F7F7F', x: 337, y: 588, w: 131, h: 44},
  {fill: '#FFE699', text: '#FFC000', x: 771, y: 536, w: 177, h: 47},
  {fill: '#D9D9D9', text: '#7F7F7F', x: 947, y: 588, w: 131, h: 44},
  {fill: '#E69A9A', text: '#8B0A0A', x: 1044, y: 536, w: 161, h: 47}
];
const boxes = [];
eventLabels.forEach((t, i) => {
  const b = boxStyles[i];
  boxes.push({type: 'rect', silent: true, shape: {x: b.x, y: b.y, width: b.w, height: b.h},
    style: {fill: b.fill}});
  boxes.push({type: 'text', silent: true, x: b.x + b.w / 2, y: b.y + b.h / 2,
    style: {text: t, fill: b.text, font: '25px Lato, "Open Sans", sans-serif',
      align: 'center', verticalAlign: 'middle'}});
});
chart.setOption({graphic: frames.concat(boxes)});
</script>
</body></html>
